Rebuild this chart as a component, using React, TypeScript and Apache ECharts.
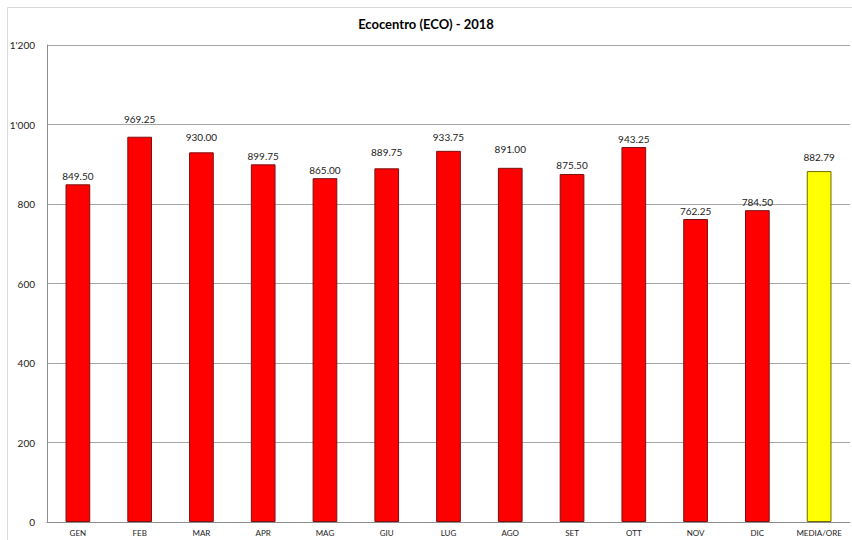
import React, { useEffect, useRef } from "react";
import * as echarts from "echarts";

const categories = ["GEN", "FEB", "MAR", "APR", "MAG", "GIU", "LUG", "AGO", "SET", "OTT", "NOV", "DIC", "MEDIA/ORE"];
const values = [849.5, 969.25, 930.0, 899.75, 865.0, 889.75, 933.75, 891.0, 875.5, 943.25, 762.25, 784.5, 882.79];
const highlightCategory = "MEDIA/ORE";
const yTicks = { min: 0, max: 1200, interval: 200 };
const titleText = "Ecocentro (ECO) - 2018";

// extra upward nudge (px) of individual data labels, as placed in the original
const labelNudge = [0, 9, 6.5, 0, 0, 7.5, 5.5, 10, 0, 0, 0, 0, 5.5];

const FONT = "Lato, 'Open Sans', sans-serif";

function fmtThousands(v: number): string {
  const s = Math.round(v).toString();
  return s.replace(/\B(?=(\d{3})+(?!\d))/g, "'");
}

export default function App() {
  const ref = useRef<HTMLDivElement>(null);
  useEffect(() => {
    if (!ref.current) return;
    const chart = echarts.init(ref.current, undefined, { renderer: "svg" });
    chart.setOption({
      animation: false,
      backgroundColor: "#ffffff",
      title: {
        text: titleText,
        left: "center",
        top: 12,
        textStyle: { fontFamily: FONT, fontSize: 13, fontWeight: "bold", color: "#000" },
      },
      graphic: [
        {
          type: "rect",
          shape: { x: 7.5, y: 7.5, width: 900, height: 600 },
          style: { fill: "none", stroke: "#d9d9d9", lineWidth: 1 },
          silent: true,
          z: -1,
        },
      ],
      grid: { left: 47, right: 2, top: 45, bottom: 18, containLabel: false },
      xAxis: {
        type: "category",
        data: categories,
        axisLine: { show: true, lineStyle: { color: "#8c8c8c", width: 1 } },
        axisTick: { show: false },
        axisLabel: { fontFamily: FONT, fontSize: 8, color: "#222", margin: 7, interval: 0 },
      },
      yAxis: {
        type: "value",
        min: yTicks.min,
        max: yTicks.max,
        interval: yTicks.interval,
        axisLine: { show: true, lineStyle: { color: "#8c8c8c", width: 1 } },
        axisTick: { show: false },
        axisLabel: {
          fontFamily: FONT,
          fontSize: 10,
          color: "#222",
          margin: 12,
          formatter: (v: number) => fmtThousands(v),
        },
        splitLine: { show: true, lineStyle: { color: "#a6a6a6", width: 1 } },
      },
      series: [
        {
          type: "bar",
          data: values.map((v, i) => {
            const hl = categories[i] === highlightCategory;
            return {
              value: v,
              itemStyle: hl
                ? { color: "#ffff00", borderColor: "#6b6b00", borderWidth: 1 }
                : { color: "#ff0000", borderColor: "#7a1010", borderWidth: 1 },
              label: { offset: [0, -(labelNudge[i] || 0)] },
            };
          }),
          barWidth: "40%",
          label: {
            show: true,
            position: "top",
            distance: 3.5,
            fontFamily: FONT,
            fontSize: 10,
            color: "#222",
            formatter: (p: any) => Number(p.value).toFixed(2),
          },
        },
      ],
    });
    return () => chart.dispose();
  }, []);
  return (
    <div
      ref={ref}
      style={{ position: "absolute", left: 0, top: 0, width: 852, height: 540 }}
    />
  );
}
